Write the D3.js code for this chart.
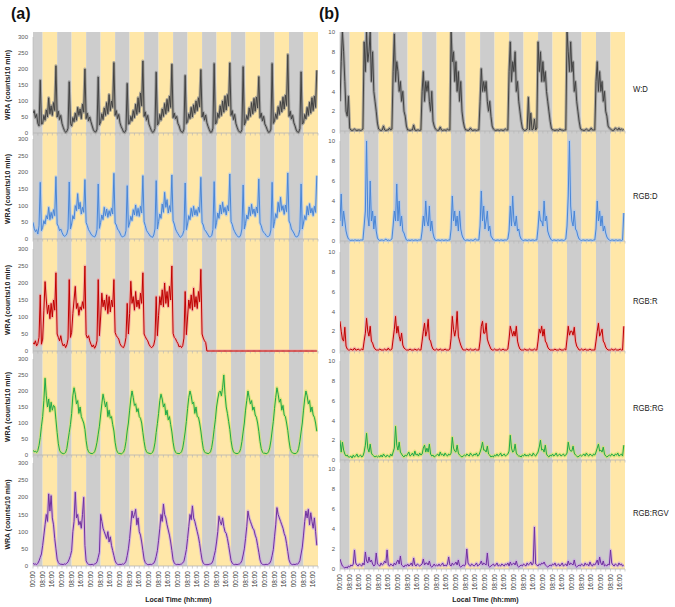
<!DOCTYPE html>
<html>
<head>
<meta charset="utf-8">
<script src="https://cdn.jsdelivr.net/npm/d3@7"></script>
<style>body{margin:0;background:#fff}</style>
</head>
<body>
<div id="chart"></div>
<script>
// hourly WRA values (counts/10 min), 236 hours starting at 00:00
const wdA = [
  62,70,48,58,30,22,165,28,30,55,40,72,50,110,60,85,55,95,70,210,50,68,42,55,
  30,18,8,2,5,15,160,30,22,48,35,62,40,80,55,75,45,90,65,200,45,62,38,50,
  35,22,10,4,3,12,175,25,35,60,42,78,55,95,60,120,70,100,80,220,55,70,45,58,
  32,20,12,3,2,10,155,28,30,52,38,70,48,90,58,110,65,125,85,225,52,66,40,55,
  28,18,8,2,4,14,190,25,30,58,40,75,52,92,60,105,68,115,80,215,48,62,44,52,
  30,22,9,3,2,12,180,30,35,60,45,80,50,88,62,100,70,110,82,198,50,65,40,56,
  32,20,10,2,3,15,217,28,32,62,48,85,55,100,65,115,72,120,85,219,55,70,42,58,
  30,18,8,3,2,10,207,25,35,55,42,78,52,95,60,108,68,112,78,176,48,62,38,52,
  28,20,10,2,3,12,217,30,38,60,45,82,58,98,66,112,75,118,86,245,52,68,44,55,
  32,22,9,3,2,14,191,28,32,58,44,80,55,96,62,110,70,115,80,196
];
const rgbdA = [
  50,32,22,28,15,40,170,25,35,55,45,70,60,95,58,80,62,88,70,187,45,38,25,30,
  20,12,8,10,15,30,171,30,45,70,60,100,85,136,90,110,75,95,80,178,50,40,28,22,
  15,10,8,6,12,28,165,32,50,72,58,95,70,90,65,85,70,92,75,197,48,42,30,25,
  18,10,6,8,10,25,160,35,48,68,55,88,72,102,70,92,68,98,78,190,52,40,26,20,
  15,9,7,5,12,30,175,30,52,75,62,105,80,140,95,118,78,100,82,192,55,45,30,22,
  16,10,5,8,14,26,168,28,45,70,58,92,68,98,72,88,70,95,80,185,50,42,28,24,
  18,12,6,7,10,28,172,32,50,78,62,102,75,110,80,95,72,100,84,195,52,44,30,22,
  15,10,6,6,12,30,162,30,46,72,60,96,70,104,76,90,68,96,78,180,48,40,26,20,
  16,11,7,8,11,27,170,34,52,76,64,110,82,125,86,100,74,102,82,198,54,46,30,24,
  18,10,6,7,13,29,165,30,48,70,58,98,72,106,78,92,70,98,80,190
];
const rgbrA = [
  25,20,30,15,22,40,165,20,35,120,204,150,110,135,95,140,100,150,120,230,50,40,30,45,
  25,15,20,10,18,35,210,40,55,110,150,190,125,140,105,130,120,145,125,250,48,38,45,30,
  20,12,18,8,15,30,210,45,100,170,130,150,120,165,110,160,115,150,130,210,55,45,40,35,
  22,15,12,10,20,40,140,50,110,205,140,160,120,175,130,150,125,170,140,230,50,42,35,30,
  20,14,10,12,18,35,160,45,105,160,135,180,130,200,140,175,130,190,150,250,52,40,36,28,
  22,12,15,10,16,38,175,48,100,150,125,165,120,185,130,160,125,175,145,240,50,38,30,25,
  0,0,0,0,0,0,0,0,0,0,0,0,0,0,0,0,0,0,0,0,0,0,0,0,
  0,0,0,0,0,0,0,0,0,0,0,0,0,0,0,0,0,0,0,0,0,0,0,0,
  0,0,0,0,0,0,0,0,0,0,0,0,0,0,0,0,0,0,0,0,0,0,0,0,
  0,0,0,0,0,0,0,0,0,0,0,0,0,0,0,0,0,0,0,0
];
const rgbrgA = [
  15,10,12,8,14,30,55,90,120,170,240,185,150,175,135,165,140,155,150,110,70,35,15,8,
  6,4,5,8,20,45,70,95,130,185,210,190,160,170,130,150,120,110,100,80,45,20,10,6,
  5,4,6,10,22,40,65,90,125,160,190,170,150,165,120,140,115,120,95,75,40,18,8,5,
  5,3,6,9,20,42,75,100,140,175,200,180,155,160,135,145,120,115,100,70,42,20,10,6,
  6,4,5,8,18,38,70,98,130,170,190,175,150,160,125,140,110,120,95,72,40,18,9,5,
  5,4,6,10,22,45,72,105,145,180,200,185,160,165,130,150,120,118,100,75,45,20,10,6,
  6,4,6,10,24,48,80,110,150,175,195,200,185,210,250,190,150,130,105,80,45,22,10,6,
  5,4,6,9,20,42,72,100,140,170,200,180,160,170,140,150,125,118,100,74,42,20,9,5,
  6,4,5,10,22,44,75,105,145,180,210,190,165,175,140,155,125,120,100,76,44,20,10,6,
  5,4,6,9,21,43,72,100,140,175,200,185,160,170,135,150,125,118,100,74
];
const rgbrgvA = [
  8,5,6,4,8,15,25,35,60,90,120,150,130,210,160,205,140,120,80,50,20,10,6,5,
  5,4,6,5,8,12,20,30,45,100,130,215,140,150,120,130,110,150,200,60,15,8,5,4,
  4,5,3,6,7,12,25,40,150,130,110,100,90,80,100,70,85,60,45,30,15,8,5,4,
  5,4,6,5,8,14,30,50,80,120,160,140,150,165,120,140,100,90,70,45,20,10,6,4,
  4,5,4,6,8,15,28,45,75,110,150,130,180,150,140,120,105,90,70,45,18,9,5,4,
  5,4,5,6,9,14,30,48,80,115,150,135,175,140,130,115,100,85,65,40,18,8,5,4,
  4,4,5,6,8,15,30,45,70,100,145,130,120,140,115,100,95,80,60,38,16,8,5,4,
  5,4,5,6,9,16,32,50,80,115,160,140,130,120,110,105,90,80,60,40,18,8,5,4,
  4,5,4,6,8,15,30,48,85,120,170,150,140,130,120,110,95,85,65,42,18,9,5,4,
  5,4,6,5,9,16,35,55,90,130,160,140,165,120,155,130,110,140,100,60
];

const wdB = [
  3,7,10,8,5,2,1.5,3.5,0.3,0.1,0.05,0.1,0.2,0.1,0.05,0.1,0.1,0.05,0.1,0.2,9,6,10,7,
  8,10,5,8,4,3,2,0.8,0.2,0.1,0.05,0.1,0.5,0.1,0.05,0.1,0.1,0.3,0.1,0.2,6,9.8,5,7,
  6,4,5,3,4,2,1.5,0.5,0.1,0.1,0.05,0.1,0.1,0.6,0.1,0.05,0.1,0.1,0.05,0.1,4,6,3,5,
  4,5,3,2,4,1,0.5,0.2,0.1,0.05,0.1,0.4,0.1,0.05,0.1,0.1,0.05,0.2,0.1,0.1,10,7,8,5,
  7,4,6,3,5,2,1,0.4,0.1,0.1,0.05,0.1,0.3,0.1,0.05,0.1,0.1,0.05,0.1,0.1,3,6.3,4,5,
  4,5,3,2,3,1.5,0.5,0.2,0.1,0.05,0.1,0.1,0.05,0.1,0.1,0.05,0.1,0.2,0.1,0.1,6,9,5,7,
  6,8,4,5,3,2,1,0.3,0.1,0.05,0.1,0.2,3.4,0.1,1.8,0.1,0.2,1.2,0.1,0.3,9,6,8,5,
  7,5,6,4,3,2,1,0.3,0.1,0.1,0.05,0.1,0.1,0.05,0.2,0.1,0.1,0.05,0.1,0.1,10,8,6,9,
  6,7,4,5,3,2,1,0.3,0.1,0.1,0.05,0.1,0.2,0.1,0.05,0.1,0.3,0.1,0.1,0.1,5,7,4,6,
  4,5,3,4,2,1.5,0.5,0.3,0.2,0.1,0.05,0.1,0.3,0.2,0.1,0.3,0.1,0.2,0.1,0.2
];
const rgbdB = [
  2,4.7,1.5,3,2,1,0.5,0.2,0.1,0.05,0.1,0.05,0.1,0.1,0.05,0.1,0.05,0.1,0.1,0.1,1.5,3,10,2.5,
  1.5,6,2,3,1.2,2.5,1,0.3,0.1,0.05,0.1,0.1,0.05,0.1,0.2,0.05,0.1,0.05,0.1,0.2,1.5,3,2,5.7,
  2,4,1.5,2.5,1,0.8,0.4,0.1,0.05,0.1,0.05,0.1,0.1,0.05,0.1,0.1,0.05,0.1,0.1,0.1,1,2.5,1.5,4,
  2,1.5,3.5,1,2,0.8,0.3,0.1,0.05,0.1,0.1,0.05,0.1,0.1,0.05,0.1,0.1,0.05,0.1,0.1,1.2,4.5,2,3,
  1.5,2.5,1,3,1.2,0.6,0.3,0.1,0.05,0.1,0.1,0.05,0.1,0.1,0.05,0.1,0.2,0.1,0.1,0.1,1.5,5,2,3.5,
  1.2,2,3,1,1.5,0.5,0.3,0.1,0.1,0.05,0.1,0.1,0.05,0.1,0.1,0.05,0.1,0.1,0.1,0.2,1,3.5,1.5,4.5,
  2,1.5,2.5,1,1.2,0.5,0.2,0.1,0.05,0.1,0.1,0.05,0.1,0.1,0.05,0.1,0.1,0.05,0.1,0.1,1.3,3,2,2,
  1.5,4,2,2.5,1,0.6,0.3,0.1,0.05,0.1,0.1,0.05,0.1,0.1,0.05,0.1,0.1,0.05,0.1,0.2,1.5,4.5,10,3.5,
  2,1.5,3,1.2,1,0.5,0.2,0.1,0.05,0.1,0.1,0.05,0.1,0.1,0.05,0.1,0.1,0.05,0.1,0.1,1.2,4,2,3,
  1.5,2.5,1,1.5,0.8,0.4,0.2,0.1,0.05,0.1,0.1,0.05,0.1,0.1,0.05,0.1,0.1,0.05,0.1,2.8
];
const rgbrB = [
  3,2,1.2,1,2.4,0.5,0.2,0.1,0.1,0.2,0.1,0.1,0.3,0.1,0.1,0.2,0.1,0.1,0.2,0.1,1,1.8,3.3,2,
  1.5,2.5,1,0.8,0.4,0.2,0.1,0.1,0.1,0.2,0.1,0.1,0.1,0.2,0.1,0.1,0.3,0.1,0.1,0.2,1.2,2.2,3.5,1.8,
  2.5,1.5,1,1.8,0.6,0.3,0.2,0.1,0.1,0.1,0.2,0.1,0.1,0.1,0.2,0.1,0.1,0.2,0.1,0.1,1,2,2.8,1.5,
  2,3.2,1.2,1,0.5,0.2,0.1,0.1,0.2,0.1,0.1,0.2,0.1,0.1,0.1,0.2,0.1,0.1,0.1,0.2,1.3,3.5,2.2,1.5,
  2.2,4,1.5,1,0.6,0.3,0.1,0.1,0.1,0.2,0.1,0.1,0.2,0.1,0.1,0.1,0.2,0.1,0.1,0.1,1,2.5,3,1.8,
  1.8,2.8,1.2,0.8,0.5,0.2,0.1,0.1,0.2,0.1,0.1,0.1,0.2,0.1,0.1,0.2,0.1,0.1,0.1,0.2,1.2,2.5,2,1.5,
  2,1.5,2.5,1,0.5,0.2,0.1,0.1,0.1,0.2,0.1,0.1,0.1,0.2,0.1,0.1,0.1,0.2,0.1,0.1,1,2.2,1.8,2.5,
  1.5,2.2,1,0.8,0.4,0.2,0.1,0.1,0.1,0.1,0.2,0.1,0.1,0.1,0.2,0.1,0.1,0.1,0.2,0.1,1.2,2.5,1.6,2,
  2,1.6,2.4,1,0.5,0.3,0.1,0.1,0.2,0.1,0.1,0.2,0.1,0.1,0.1,0.2,0.1,0.1,0.1,0.1,1,2,2.8,1.5,
  1.8,2.2,1,0.8,0.4,0.2,0.1,0.1,0.1,0.2,0.1,0.1,0.2,0.1,0.1,0.1,0.2,0.1,0.1,2.5
];
const rgbrgB = [
  2,0.8,1.8,1,0.6,0.4,0.5,0.3,0.3,0.4,0.2,0.5,0.3,0.4,0.6,0.3,0.4,0.5,0.3,0.4,0.8,1.5,2.7,1.2,
  0.8,1.6,0.7,0.5,0.4,0.3,0.4,0.3,0.4,0.3,0.5,0.3,0.6,0.4,0.3,0.5,0.4,0.3,0.6,0.4,0.8,1.2,3.4,1.5,
  1,1.8,0.8,0.6,0.4,0.3,0.5,0.4,0.6,0.8,0.4,0.5,0.7,0.4,0.9,0.5,0.6,0.4,0.7,0.5,0.6,1.2,1.5,0.8,
  1.2,0.8,1.6,0.6,0.4,0.5,0.3,0.4,0.5,0.6,0.4,0.8,0.5,0.6,0.4,0.7,0.5,0.4,0.6,0.5,0.7,2.3,1.2,0.9,
  0.8,1.5,0.7,0.5,0.4,0.3,0.4,0.5,0.4,0.6,0.5,0.4,0.7,0.5,0.4,0.6,0.5,0.7,0.4,0.5,0.8,1.2,1.8,1,
  1,0.8,1.4,0.6,0.5,0.3,0.4,0.3,0.5,0.4,0.6,0.4,0.5,0.7,0.4,0.5,0.6,0.4,0.5,0.6,0.9,2.5,1.2,0.8,
  0.9,1.6,0.7,0.5,0.4,0.4,0.3,0.5,0.4,0.6,0.4,0.5,0.4,0.6,0.5,0.4,0.7,0.5,0.4,0.6,0.8,1.3,2,1,
  1.1,0.8,1.5,0.6,0.4,0.3,0.5,0.4,0.6,0.4,0.5,0.7,0.4,0.5,0.6,0.4,0.5,0.6,0.4,0.5,0.7,1.8,1.1,0.9,
  0.9,1.4,0.7,0.5,0.4,0.3,0.4,0.5,0.4,0.5,0.6,0.4,0.7,0.5,0.4,0.6,0.5,0.4,0.6,0.5,0.8,1.2,1.6,0.9,
  1,0.8,1.3,0.6,0.4,0.3,0.4,0.5,0.4,0.6,0.5,0.4,0.6,0.5,0.7,0.4,0.5,0.6,0.4,1.5
];
const rgbrgvB = [
  1,0.6,0.3,0.2,0.1,0.2,0.1,0.3,0.2,0.4,0.3,0.5,1.9,0.6,0.4,0.3,0.5,0.4,0.3,0.6,0.4,1.7,0.8,0.6,
  1.2,0.7,0.9,0.5,0.3,0.4,1.6,0.5,0.4,0.3,0.6,0.4,0.5,0.8,0.6,1.9,0.4,0.3,0.5,0.4,0.3,0.6,0.4,0.7,
  0.9,0.5,1.3,0.4,0.3,0.2,0.4,0.3,0.5,0.3,0.4,0.6,0.3,1.1,0.4,0.3,0.5,0.4,0.3,0.4,0.5,1,0.4,0.6,
  0.6,0.4,0.8,0.3,0.2,0.3,0.5,0.3,0.4,0.3,0.5,0.3,0.4,0.6,0.3,0.4,0.3,0.5,1.2,0.4,0.3,0.6,0.4,0.5,
  0.7,0.4,0.9,0.3,0.2,0.3,0.4,0.3,0.5,2,0.6,0.4,0.3,0.5,0.4,0.3,0.4,0.6,0.3,0.4,0.5,0.8,0.4,0.6,
  0.5,0.4,1.6,0.3,0.2,0.3,0.4,0.5,0.3,0.4,0.6,0.3,0.4,0.3,0.5,0.4,0.3,0.5,0.4,0.6,0.3,0.7,0.4,0.5,
  0.6,0.4,0.8,0.3,0.2,0.3,0.4,0.3,0.5,0.4,0.3,0.6,0.4,0.5,0.7,0.4,0.6,4.2,0.5,0.4,0.3,0.5,0.4,0.6,
  0.5,0.7,0.4,0.3,0.2,0.3,0.4,0.3,0.5,0.4,0.6,0.3,0.4,0.5,0.3,0.4,0.6,0.3,0.4,0.5,0.3,0.8,0.4,0.6,
  0.5,0.4,0.9,0.3,0.2,0.3,0.4,0.3,0.5,0.4,0.3,0.6,0.4,0.5,0.3,0.7,0.4,0.3,0.5,0.4,0.6,0.9,0.4,1.2,
  0.6,0.4,0.8,0.3,0.4,0.3,0.5,0.4,1.9,0.6,0.4,0.3,0.5,0.4,0.3,0.6,0.4,0.5,0.3,0.4
];

const groups = ["W:D", "RGB:D", "RGB:R", "RGB:RG", "RGB:RGV"];
const seriesA = [wdA, rgbdA, rgbrA, rgbrgA, rgbrgvA];
const seriesB = [wdB, rgbdB, rgbrB, rgbrgB, rgbrgvB];
const lineColors = ["#434343", "#4a86d6", "#c00000", "#1fa84a", "#7030a0"];
const haloColors = ["#8f8f8f", "#a8c6ee", "#f0a2a2", "#cfe36e", "#c9a8e2"];
const totalHours = 236, lightsOn = 8, lightsOff = 20;

const width = 675, height = 607;
const svg = d3.select("#chart").append("svg")
    .attr("width", width).attr("height", height)
    .style("font-family", "'Liberation Sans', Arial, sans-serif");

const panels = [
  {key: "a", x0: 33, x1: 318, top: 32, max: 300, step: 50, series: seriesA,
   rows: [[37,133],[139,239],[249,351],[359,455],[463,566]]},
  {key: "b", x0: 340, x1: 625, top: 32, max: 10, step: 2, series: seriesB,
   rows: [[32,131],[141,241],[252,351],[361,460],[469,569]]}
];
const groupLabelY = [89, 196, 301, 408, 513];

// light / dark periods over the recording
const periods = [];
for (let d = 0; d * 24 < totalHours; d++) {
  const s = d * 24;
  periods.push({from: Math.max(0, s - 24 + lightsOff), to: Math.min(totalHours, s + lightsOn), light: false});
  if (s + lightsOn < totalHours)
    periods.push({from: s + lightsOn, to: Math.min(totalHours, s + lightsOff), light: true});
}

const fmt = h => d3.format("02")(h % 24) + ":00";

panels.forEach(p => {
  const x = d3.scaleLinear().domain([0, totalHours]).range([p.x0, p.x1]);
  const bottom = p.rows[4][1];
  const g = svg.append("g");

  g.selectAll("rect.band").data(periods).enter().append("rect")
      .attr("x", d => x(d.from))
      .attr("width", d => x(d.to) - x(d.from))
      .attr("y", p.top).attr("height", bottom - p.top)
      .attr("fill", d => d.light ? "#ffe7a8" : "#cdcdcd");

  p.series.forEach((vals, i) => {
    const [yt, yb] = p.rows[i];
    const y = d3.scaleLinear().domain([0, p.max]).range([yb, yt]);
    const clipId = `clip-${p.key}-${i}`;
    svg.append("clipPath").attr("id", clipId).append("rect")
        .attr("x", p.x0).attr("y", i === 0 ? p.top : yt - 2)
        .attr("width", p.x1 - p.x0).attr("height", yb - (i === 0 ? p.top : yt - 2) + 1);

    // axis baseline + ticks
    g.append("line").attr("x1", p.x0).attr("x2", p.x1)
        .attr("y1", yb).attr("y2", yb).attr("stroke", "#b4b4b4").attr("stroke-width", 0.8);
    g.selectAll(null).data(d3.range(0, totalHours + 1, 4)).enter().append("line")
        .attr("x1", d => x(d)).attr("x2", d => x(d))
        .attr("y1", yb).attr("y2", yb + 2.5)
        .attr("stroke", "#b4b4b4").attr("stroke-width", 0.6);
    g.append("line").attr("x1", p.x0).attr("x2", p.x0)
        .attr("y1", yt).attr("y2", yb).attr("stroke", "#b4b4b4").attr("stroke-width", 0.6);

    const line = d3.line().x((d, k) => x(k)).y(d => y(d));
    const lg = g.append("g").attr("clip-path", `url(#${clipId})`);
    lg.append("path").datum(vals).attr("d", line)
        .attr("fill", "none").attr("stroke", haloColors[i])
        .attr("stroke-width", 3).attr("stroke-opacity", 0.75).attr("stroke-linejoin", "round");
    lg.append("path").datum(vals).attr("d", line)
        .attr("fill", "none").attr("stroke", lineColors[i])
        .attr("stroke-width", 1).attr("stroke-linejoin", "round");

    // y tick labels
    g.selectAll(null).data(d3.range(0, p.max + 0.001, p.step)).enter().append("text")
        .attr("x", p.x0 - 5).attr("y", d => y(d)).attr("dy", "0.35em")
        .attr("text-anchor", "end").attr("font-size", 6).attr("fill", "#555")
        .text(d => d);

    if (p.key === "a") {
      g.append("text")
          .attr("transform", `translate(10,${(yt + yb) / 2}) rotate(-90)`)
          .attr("text-anchor", "middle").attr("font-size", 7).attr("font-weight", "bold")
          .attr("fill", "#222").text("WRA (counts/10 min)");
    } else {
      const t = g.append("text").attr("x", 633).attr("y", groupLabelY[i]).attr("dy", "0.35em")
          .attr("font-size", 9).attr("fill", "#222").text(groups[i]);
      // narrower glyphs, like the original's condensed face
      const w = t.node().getComputedTextLength();
      t.attr("textLength", w * 0.86).attr("lengthAdjust", "spacingAndGlyphs");
    }
  });

  // time labels under the bottom row
  g.selectAll(null).data(d3.range(0, totalHours, 8)).enter().append("text")
      .attr("transform", d => `translate(${x(d) + 2},${bottom + 5}) rotate(-90)`)
      .attr("text-anchor", "end").attr("font-size", 6.5).attr("fill", "#333")
      .text(fmt);

  g.append("text").attr("x", (p.x0 + p.x1) / 2 + 3).attr("y", 602)
      .attr("text-anchor", "middle").attr("font-size", 7).attr("font-weight", "bold")
      .attr("fill", "#222").text("Local Time (hh:mm)");

  svg.append("text").attr("x", p.key === "a" ? 11 : 319).attr("y", 19)
      .attr("font-size", 16).attr("font-weight", "bold").attr("fill", "#111")
      .text(`(${p.key})`);
});
</script>
</body>
</html>
